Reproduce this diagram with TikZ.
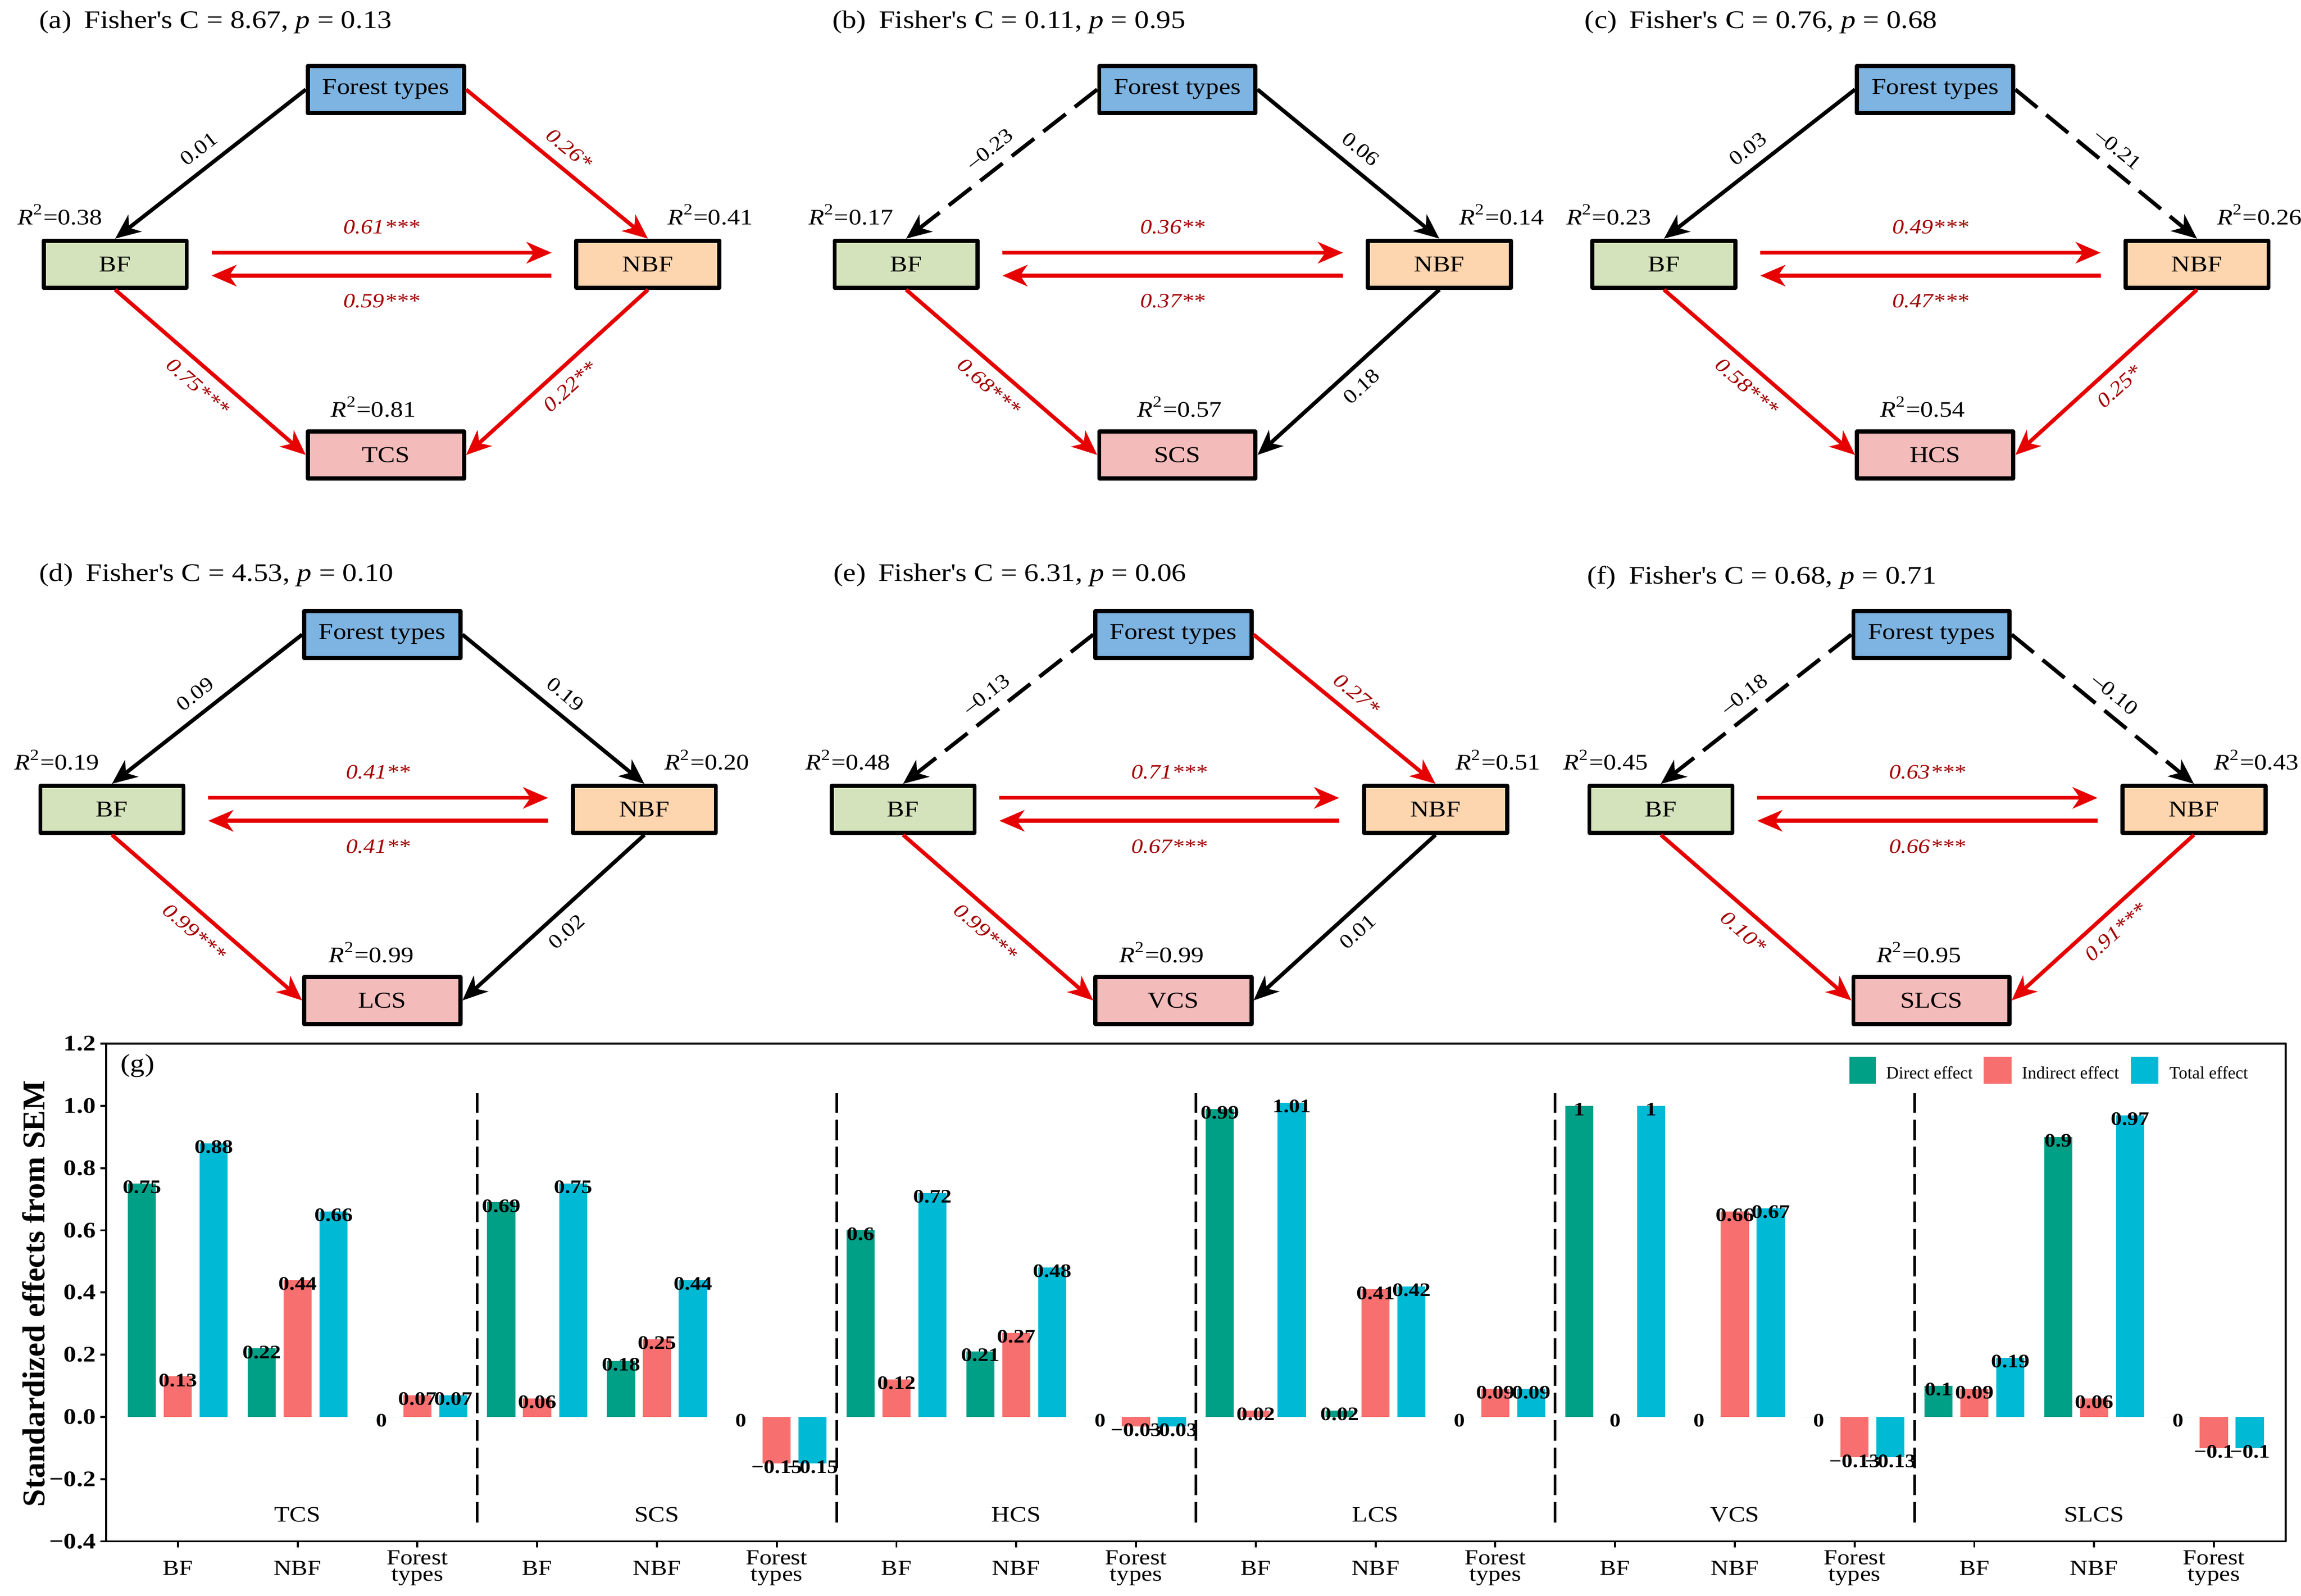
\documentclass[tikz,border=0pt]{standalone}
\usepackage{fontspec}
\setmainfont{Liberation Serif}[FakeStretch=1.15]
\newfontfamily\plainrm{Liberation Serif}
\usetikzlibrary{arrows.meta}
\definecolor{ftblue}{HTML}{7EB4E2}
\definecolor{bfgreen}{HTML}{D5E3BC}
\definecolor{nbforange}{HTML}{FDD5AF}
\definecolor{cspink}{HTML}{F4BBBB}
\definecolor{arrowred}{HTML}{E60000}
\definecolor{labred}{HTML}{A30000}
\definecolor{dircol}{HTML}{00A087}
\definecolor{indcol}{HTML}{F86F6F}
\definecolor{totcol}{HTML}{00BAD5}

\begin{document}
\begin{tikzpicture}[line join=round,>={Stealth[length=3.4mm,width=2.9mm,inset=1mm]},x=0.02cm,y=-0.02cm,
box/.style={draw, line width=1.6pt, inner sep=0pt, minimum height=0.64cm, font=\fontsize{8.8}{10}\selectfont},
ftbox/.style={box, fill=ftblue, minimum width=2.13cm},
bfbox/.style={box, fill=bfgreen, minimum width=1.95cm},
nbfbox/.style={box, fill=nbforange, minimum width=1.95cm},
csbox/.style={box, fill=cspink, minimum width=2.13cm},
sigpath/.style={->, line width=1.5pt, draw=arrowred},
nspath/.style={->, line width=1.5pt},
negpath/.style={nspath, dash pattern=on 11pt off 4.5pt},
edgelab/.style={midway, sloped, inner sep=1.5pt, font=\fontsize{7.9}{9}\selectfont},
siglab/.style={edgelab, text=labred, font=\fontsize{7.9}{9}\selectfont\itshape},
rsq/.style={font=\fontsize{8.6}{10}\selectfont},
ttl/.style={anchor=base west, font=\fontsize{9.8}{12}\selectfont},
dirbar/.style={fill=dircol},
indbar/.style={fill=indcol},
totbar/.style={fill=totcol},
vlab/.style={inner sep=0pt, yshift=-0.05cm, font=\fontsize{7.4}{8}\selectfont\bfseries},
axlab/.style={inner sep=1.5pt, font=\fontsize{8.6}{10}\selectfont\bfseries},
catlab/.style={align=center, inner sep=0pt, font=\fontsize{8.3}{6.3}\selectfont},
grplab/.style={inner sep=0pt, font=\fontsize{8.5}{10}\selectfont},
keylab/.style={anchor=west, inner sep=0pt, font=\plainrm\fontsize{6.7}{8}\selectfont}]
\useasboundingbox (0,0) rectangle (1568,1087.5);

% (a)
\node[ttl] at (20.6,19.2) {(a)\hspace{0.5em}Fisher\textquotesingle s C = 8.67, \textit{p} = 0.13};
\node[ftbox] (fta) at (263,61) {Forest types};
\node[bfbox] (bfa) at (78.5,180) {BF};
\node[nbfbox] (nbfa) at (441.5,180) {NBF};
\node[csbox] (tcs) at (263,310) {TCS};
\node[rsq, anchor=base east] (rbfa) at ([xshift=-0.05cm,yshift=0.19cm]bfa.north) {\textit{R}\textsuperscript{2}=0.38};
\node[rsq, anchor=base west] (rnbfa) at ([xshift=0.15cm,yshift=0.19cm]nbfa.north) {\textit{R}\textsuperscript{2}=0.41};
\node[rsq, anchor=base] (rtcs) at ([xshift=-0.17cm,yshift=0.17cm]tcs.north) {\textit{R}\textsuperscript{2}=0.81};
\draw[nspath] (fta.west) -- (bfa.north) node[edgelab, above=2.5pt] {0.01};
\draw[sigpath] (fta.east) -- (nbfa.north) node[siglab, above=2.5pt] {0.26*};
\draw[sigpath] ([xshift=0.31cm,yshift=0.156cm]bfa.east) -- ([xshift=-0.31cm,yshift=0.156cm]nbfa.west) node[siglab, above=5pt] {0.61***};
\draw[sigpath] ([xshift=-0.31cm,yshift=-0.156cm]nbfa.west) -- ([xshift=0.31cm,yshift=-0.156cm]bfa.east) node[siglab, below=5pt] {0.59***};
\draw[sigpath] (bfa.south) -- (tcs.west) node[siglab, below=2.5pt] {0.75***};
\draw[sigpath] (nbfa.south) -- (tcs.east) node[siglab, below=2.5pt] {0.22**};

% (b)
\node[ttl] at (561,19.2) {(b)\hspace{0.5em}Fisher\textquotesingle s C = 0.11, \textit{p} = 0.95};
\node[ftbox] (ftb) at (802.3,61) {Forest types};
\node[bfbox] (bfb) at (617.5,180) {BF};
\node[nbfbox] (nbfb) at (980.8,180) {NBF};
\node[csbox] (scs) at (802.3,310) {SCS};
\node[rsq, anchor=base east] (rbfb) at ([xshift=-0.05cm,yshift=0.19cm]bfb.north) {\textit{R}\textsuperscript{2}=0.17};
\node[rsq, anchor=base west] (rnbfb) at ([xshift=0.15cm,yshift=0.19cm]nbfb.north) {\textit{R}\textsuperscript{2}=0.14};
\node[rsq, anchor=base] (rscs) at ([xshift=0.03cm,yshift=0.17cm]scs.north) {\textit{R}\textsuperscript{2}=0.57};
\draw[negpath] (ftb.west) -- (bfb.north) node[edgelab, above=2.5pt] {–0.23};
\draw[nspath] (ftb.east) -- (nbfb.north) node[edgelab, above=2.5pt] {0.06};
\draw[sigpath] ([xshift=0.31cm,yshift=0.156cm]bfb.east) -- ([xshift=-0.31cm,yshift=0.156cm]nbfb.west) node[siglab, above=5pt] {0.36**};
\draw[sigpath] ([xshift=-0.31cm,yshift=-0.156cm]nbfb.west) -- ([xshift=0.31cm,yshift=-0.156cm]bfb.east) node[siglab, below=5pt] {0.37**};
\draw[sigpath] (bfb.south) -- (scs.west) node[siglab, below=2.5pt] {0.68***};
\draw[nspath] (nbfb.south) -- (scs.east) node[edgelab, below=2.5pt] {0.18};

% (c)
\node[ttl] at (1073.7,19.2) {(c)\hspace{0.5em}Fisher\textquotesingle s C = 0.76, \textit{p} = 0.68};
\node[ftbox] (ftc) at (1318.7,61) {Forest types};
\node[bfbox] (bfc) at (1133.9,180) {BF};
\node[nbfbox] (nbfc) at (1497.1,180) {NBF};
\node[csbox] (hcs) at (1318.7,310) {HCS};
\node[rsq, anchor=base east] (rbfc) at ([xshift=-0.05cm,yshift=0.19cm]bfc.north) {\textit{R}\textsuperscript{2}=0.23};
\node[rsq, anchor=base west] (rnbfc) at ([xshift=0.15cm,yshift=0.19cm]nbfc.north) {\textit{R}\textsuperscript{2}=0.26};
\node[rsq, anchor=base] (rhcs) at ([xshift=-0.17cm,yshift=0.17cm]hcs.north) {\textit{R}\textsuperscript{2}=0.54};
\draw[nspath] (ftc.west) -- (bfc.north) node[edgelab, above=2.5pt] {0.03};
\draw[negpath] (ftc.east) -- (nbfc.north) node[edgelab, above=2.5pt] {–0.21};
\draw[sigpath] ([xshift=0.31cm,yshift=0.156cm]bfc.east) -- ([xshift=-0.31cm,yshift=0.156cm]nbfc.west) node[siglab, above=5pt] {0.49***};
\draw[sigpath] ([xshift=-0.31cm,yshift=-0.156cm]nbfc.west) -- ([xshift=0.31cm,yshift=-0.156cm]bfc.east) node[siglab, below=5pt] {0.47***};
\draw[sigpath] (bfc.south) -- (hcs.west) node[siglab, below=2.5pt] {0.58***};
\draw[sigpath] (nbfc.south) -- (hcs.east) node[siglab, below=2.5pt] {0.25*};

% (d)
\node[ttl] at (20.6,396) {(d)\hspace{0.5em}Fisher\textquotesingle s C = 4.53, \textit{p} = 0.10};
\node[ftbox] (ftd) at (260.5,432.4) {Forest types};
\node[bfbox] (bfd) at (76.3,551.5) {BF};
\node[nbfbox] (nbfd) at (439.1,551.5) {NBF};
\node[csbox] (lcs) at (260.5,681.7) {LCS};
\node[rsq, anchor=base east] (rbfd) at ([xshift=-0.05cm,yshift=0.19cm]bfd.north) {\textit{R}\textsuperscript{2}=0.19};
\node[rsq, anchor=base west] (rnbfd) at ([xshift=0.15cm,yshift=0.19cm]nbfd.north) {\textit{R}\textsuperscript{2}=0.20};
\node[rsq, anchor=base] (rlcs) at ([xshift=-0.15cm,yshift=0.17cm]lcs.north) {\textit{R}\textsuperscript{2}=0.99};
\draw[nspath] (ftd.west) -- (bfd.north) node[edgelab, above=2.5pt] {0.09};
\draw[nspath] (ftd.east) -- (nbfd.north) node[edgelab, above=2.5pt] {0.19};
\draw[sigpath] ([xshift=0.31cm,yshift=0.156cm]bfd.east) -- ([xshift=-0.31cm,yshift=0.156cm]nbfd.west) node[siglab, above=5pt] {0.41**};
\draw[sigpath] ([xshift=-0.31cm,yshift=-0.156cm]nbfd.west) -- ([xshift=0.31cm,yshift=-0.156cm]bfd.east) node[siglab, below=5pt] {0.41**};
\draw[sigpath] (bfd.south) -- (lcs.west) node[siglab, below=2.5pt] {0.99***};
\draw[nspath] (nbfd.south) -- (lcs.east) node[edgelab, below=2.5pt] {0.02};

% (e)
\node[ttl] at (561.8,396) {(e)\hspace{0.5em}Fisher\textquotesingle s C = 6.31, \textit{p} = 0.06};
\node[ftbox] (fte) at (799.6,432.4) {Forest types};
\node[bfbox] (bfe) at (615.4,551.5) {BF};
\node[nbfbox] (nbfe) at (978.2,551.5) {NBF};
\node[csbox] (vcs) at (799.6,681.7) {VCS};
\node[rsq, anchor=base east] (rbfe) at ([xshift=-0.05cm,yshift=0.19cm]bfe.north) {\textit{R}\textsuperscript{2}=0.48};
\node[rsq, anchor=base west] (rnbfe) at ([xshift=0.15cm,yshift=0.19cm]nbfe.north) {\textit{R}\textsuperscript{2}=0.51};
\node[rsq, anchor=base] (rvcs) at ([xshift=-0.16cm,yshift=0.17cm]vcs.north) {\textit{R}\textsuperscript{2}=0.99};
\draw[negpath] (fte.west) -- (bfe.north) node[edgelab, above=2.5pt] {–0.13};
\draw[sigpath] (fte.east) -- (nbfe.north) node[siglab, above=2.5pt] {0.27*};
\draw[sigpath] ([xshift=0.31cm,yshift=0.156cm]bfe.east) -- ([xshift=-0.31cm,yshift=0.156cm]nbfe.west) node[siglab, above=5pt] {0.71***};
\draw[sigpath] ([xshift=-0.31cm,yshift=-0.156cm]nbfe.west) -- ([xshift=0.31cm,yshift=-0.156cm]bfe.east) node[siglab, below=5pt] {0.67***};
\draw[sigpath] (bfe.south) -- (vcs.west) node[siglab, below=2.5pt] {0.99***};
\draw[nspath] (nbfe.south) -- (vcs.east) node[edgelab, below=2.5pt] {0.01};

% (f)
\node[ttl] at (1075.3,398) {(f)\hspace{0.5em}Fisher\textquotesingle s C = 0.68, \textit{p} = 0.71};
\node[ftbox] (ftf) at (1316.2,432.4) {Forest types};
\node[bfbox] (bff) at (1131.8,551.5) {BF};
\node[nbfbox] (nbff) at (1495,551.5) {NBF};
\node[csbox] (slcs) at (1316.2,681.7) {SLCS};
\node[rsq, anchor=base east] (rbff) at ([xshift=-0.05cm,yshift=0.19cm]bff.north) {\textit{R}\textsuperscript{2}=0.45};
\node[rsq, anchor=base west] (rnbff) at ([xshift=0.15cm,yshift=0.19cm]nbff.north) {\textit{R}\textsuperscript{2}=0.43};
\node[rsq, anchor=base] (rslcs) at ([xshift=-0.17cm,yshift=0.17cm]slcs.north) {\textit{R}\textsuperscript{2}=0.95};
\draw[negpath] (ftf.west) -- (bff.north) node[edgelab, above=2.5pt] {–0.18};
\draw[negpath] (ftf.east) -- (nbff.north) node[edgelab, above=2.5pt] {–0.10};
\draw[sigpath] ([xshift=0.31cm,yshift=0.156cm]bff.east) -- ([xshift=-0.31cm,yshift=0.156cm]nbff.west) node[siglab, above=5pt] {0.63***};
\draw[sigpath] ([xshift=-0.31cm,yshift=-0.156cm]nbff.west) -- ([xshift=0.31cm,yshift=-0.156cm]bff.east) node[siglab, below=5pt] {0.66***};
\draw[sigpath] (bff.south) -- (slcs.west) node[siglab, below=2.5pt] {0.10*};
\draw[sigpath] (nbff.south) -- (slcs.east) node[siglab, below=2.5pt] {0.91***};

% (g) standardized effects
\node[font=\fontsize{9.8}{12}\selectfont] at (93.8,726.4) {(g)};
\node[rotate=90, font=\plainrm\fontsize{12.3}{14}\selectfont\bfseries] at (23,881.4) {Standardized effects from SEM};
\fill[dircol] (1260.2,720.2) rectangle (1278.2,738.6);
\node[keylab] at (1285,731) {Direct effect};
\fill[indcol] (1351.8,720.2) rectangle (1370.8,738.6);
\node[keylab] at (1377.5,731) {Indirect effect};
\fill[totcol] (1452,720.2) rectangle (1470.8,738.6);
\node[keylab] at (1478,731) {Total effect};
\begin{scope}[shift={(121.2,965.5)}, x=1.6326cm, y=4.24cm]
\foreach \c/\v in {0/0.75,1/0.22,2/0,3/0.69,4/0.18,5/0,6/0.6,7/0.21,8/0,9/0.99,10/0.02,11/0,12/1,13/0,14/0,15/0.1,16/0.9,17/0}
{
  \fill[dirbar] (\c-0.4175,0) rectangle (\c-0.1825,\v);
  \node[vlab] at (\c-0.3,\v) {\v};
}
\foreach \c/\v/\l in {0/0.13/0.13,1/0.44/0.44,2/0.07/0.07,3/0.06/0.06,4/0.25/0.25,5/-0.15/−0.15,6/0.12/0.12,7/0.27/0.27,8/-0.03/−0.03,9/0.02/0.02,10/0.41/0.41,11/0.09/0.09,12/0/0,13/0.66/0.66,14/-0.13/−0.13,15/0.09/0.09,16/0.06/0.06,17/-0.1/−0.1}
{
  \fill[indbar] (\c-0.1175,0) rectangle (\c+0.1175,\v);
  \node[vlab] at (\c,\v) {\l};
}
\foreach \c/\v/\l in {0/0.88/0.88,1/0.66/0.66,2/0.07/0.07,3/0.75/0.75,4/0.44/0.44,5/-0.15/−0.15,6/0.72/0.72,7/0.48/0.48,8/-0.03/−0.03,9/1.01/1.01,10/0.42/0.42,11/0.09/0.09,12/1/1,13/0.67/0.67,14/-0.13/−0.13,15/0.19/0.19,16/0.97/0.97,17/-0.1/−0.1}
{
  \fill[totbar] (\c+0.1825,0) rectangle (\c+0.4175,\v);
  \node[vlab] at (\c+0.3,\v) {\l};
}
% group separators
\foreach \s in {2.5,5.5,8.5,11.5,14.5}
  \draw[line width=1pt, dash pattern=on 8pt off 2.6pt] (\s,-0.34) -- (\s,1.04);
\foreach \c/\g in {1/TCS,4/SCS,7/HCS,10/LCS,13/VCS,16/SLCS}
  \node[grplab] at (\c,-0.314) {\g};
% frame and ticks
\draw[line width=0.8pt] (-0.6,-0.4) rectangle (17.6,1.2);
\foreach \v/\t in {-0.4/−0.4,-0.2/−0.2,0/0.0,0.2/0.2,0.4/0.4,0.6/0.6,0.8/0.8,1.0/1.0,1.2/1.2}
{
  \draw[line width=0.8pt] (-0.6,\v) -- ++(-0.08cm,0);
  \node[axlab, anchor=east] at ([xshift=-0.08cm]-0.6,\v) {\t};
}
\foreach \k in {0,3,6,9,12,15}
{
  \draw[line width=0.8pt] (\k,-0.4) -- ++(0,-0.08cm);
  \draw[line width=0.8pt] (\k+1,-0.4) -- ++(0,-0.08cm);
  \draw[line width=0.8pt] (\k+2,-0.4) -- ++(0,-0.08cm);
  \node[catlab] at (\k,-0.486) {BF};
  \node[catlab] at (\k+1,-0.486) {NBF};
  \node[catlab] at (\k+2,-0.486) {Forest\\types};
}
\end{scope}
\end{tikzpicture}
\end{document}
